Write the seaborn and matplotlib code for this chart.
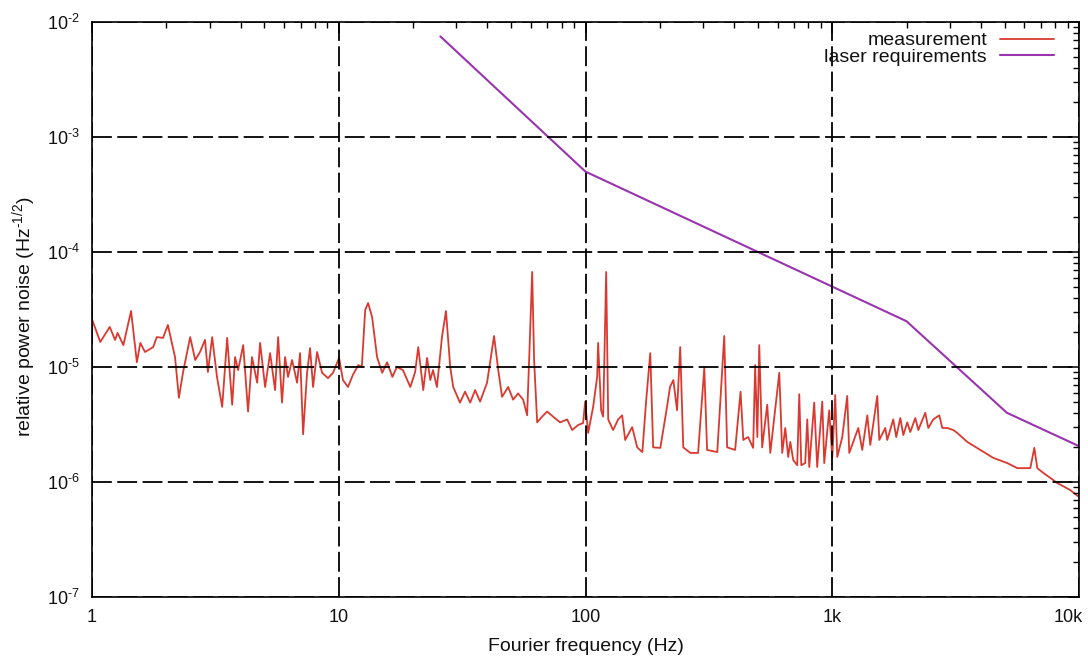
import matplotlib
matplotlib.use("Agg")
import matplotlib.pyplot as plt
import matplotlib.ticker as mticker
import matplotlib.transforms as mtransforms
import numpy as np
import pandas as pd
import seaborn as sns

# ---------------- data ----------------
meas_freq = [
    1.0, 1.08, 1.18, 1.24, 1.27, 1.34, 1.44, 1.52, 1.57, 1.64, 1.77, 1.83, 1.94, 2.03,
    2.17, 2.25, 2.34, 2.50, 2.62, 2.74, 2.87, 2.95, 3.07, 3.21, 3.37, 3.53, 3.70, 3.80,
    3.91, 4.10, 4.29, 4.45, 4.67, 4.80, 5.03, 5.27, 5.52, 5.68, 5.89, 6.06, 6.23, 6.47,
    6.78, 6.97, 7.17, 7.44, 7.65, 7.87, 8.17, 8.56, 9.05, 9.48, 10.03, 10.4, 10.9, 11.4,
    12.0, 12.4, 12.8, 13.15, 13.65, 14.3, 15.0, 15.7, 16.5, 17.2, 18.2, 19.5, 20.4, 21.0,
    22.0, 22.8, 23.5, 24.1, 25.0, 26.2, 27.2, 28.3, 29.1, 31.0, 32.5, 34.1, 35.7, 37.4,
    39.9, 42.6, 44.3, 45.9, 48.6, 50.9, 53.3, 55.9, 58.0, 59.1, 60.8, 61.9, 63.7, 66.7,
    69.9, 73.9, 78.9, 84.3, 88.3, 93.4, 97.8, 99.7, 102.5, 107.4, 111.5, 112.5, 115.7,
    117.9, 121.3, 123.6, 129.4, 135.6, 140.8, 144.8, 154.6, 162, 170, 176, 183, 188, 201,
    214, 220, 227, 235, 242, 249, 266, 286, 303, 311, 342, 365, 375, 404, 425, 436, 456,
    478, 487, 497, 506, 520, 545, 561, 610, 627, 645, 663, 676, 695, 721, 735, 749, 777,
    792, 807, 845, 869, 911, 928, 972, 1000, 1028, 1048, 1098, 1150, 1172, 1275, 1323,
    1387, 1426, 1522, 1551, 1640, 1671, 1767, 1817, 1887, 1941, 2014, 2071, 2171, 2232,
    2382, 2450, 2567, 2715, 2792, 2925, 3094, 3212, 3526, 3981, 4496, 5122, 5623, 6349,
    6590, 6776, 7168, 8168, 9224, 10000,
]
meas_val = [
    2.6e-5, 1.65e-5, 2.23e-5, 1.72e-5, 1.98e-5, 1.55e-5, 3.07e-5, 1.10e-5, 1.62e-5, 1.35e-5,
    1.49e-5, 1.82e-5, 1.79e-5, 2.32e-5, 1.22e-5, 5.4e-6, 9.05e-6, 1.82e-5, 1.15e-5, 1.35e-5,
    1.72e-5, 9.05e-6, 1.82e-5, 8.2e-6, 4.5e-6, 1.79e-5, 4.7e-6, 1.22e-5, 9.4e-6, 1.55e-5,
    4.1e-6, 1.22e-5, 7.3e-6, 1.62e-5, 6.7e-6, 1.32e-5, 6.3e-6, 1.82e-5, 4.9e-6, 1.22e-5,
    8.2e-6, 1.15e-5, 7.3e-6, 1.32e-5, 2.6e-6, 8.9e-6, 1.46e-5, 6.7e-6, 1.35e-5, 8.9e-6,
    8.0e-6, 8.9e-6, 1.20e-5, 7.7e-6, 6.7e-6, 8.5e-6, 1.04e-5, 1.0e-5, 3.13e-5, 3.6e-5,
    2.72e-5, 1.22e-5, 8.9e-6, 1.10e-5, 8.2e-6, 1.0e-5, 9.4e-6, 6.7e-6, 9.05e-6, 1.49e-5,
    6.3e-6, 1.20e-5, 7.7e-6, 9.4e-6, 6.7e-6, 1.82e-5, 3.07e-5, 1.0e-5, 6.7e-6, 4.9e-6,
    6.1e-6, 4.9e-6, 6.3e-6, 5.0e-6, 7.3e-6, 1.86e-5, 9.4e-6, 5.5e-6, 6.7e-6, 5.2e-6,
    5.9e-6, 5.2e-6, 3.8e-6, 1.15e-5, 6.7e-5, 1.15e-5, 3.3e-6, 3.7e-6, 4.1e-6, 3.7e-6,
    3.3e-6, 3.5e-6, 2.83e-6, 3.13e-6, 3.26e-6, 5.0e-6, 2.67e-6, 4.5e-6, 8.2e-6, 1.62e-5,
    4.2e-6, 3.7e-6, 6.7e-5, 3.5e-6, 2.83e-6, 3.5e-6, 3.8e-6, 2.32e-6, 3.0e-6, 2.0e-6,
    1.82e-6, 5.0e-6, 1.32e-5, 2.0e-6, 1.98e-6, 4.5e-6, 6.7e-6, 7.7e-6, 4.2e-6, 1.49e-5,
    2.0e-6, 1.79e-6, 1.79e-6, 9.8e-6, 1.9e-6, 1.82e-6, 1.86e-5, 2.0e-6, 1.9e-6, 6.1e-6,
    2.32e-6, 2.46e-6, 1.98e-6, 1.04e-5, 2.46e-6, 1.55e-5, 2.0e-6, 4.7e-6, 1.79e-6, 8.9e-6,
    1.79e-6, 2.95e-6, 1.65e-6, 2.23e-6, 1.55e-6, 1.40e-6, 5.8e-6, 1.40e-6, 1.46e-6, 3.5e-6,
    1.35e-6, 4.9e-6, 1.35e-6, 5.0e-6, 1.46e-6, 4.2e-6, 1.62e-6, 5.7e-6, 1.65e-6, 2.46e-6,
    5.6e-6, 1.79e-6, 2.95e-6, 1.9e-6, 3.8e-6, 2.1e-6, 5.6e-6, 2.32e-6, 2.95e-6, 2.32e-6,
    3.5e-6, 2.46e-6, 3.6e-6, 2.56e-6, 3.3e-6, 2.72e-6, 3.6e-6, 2.83e-6, 4.0e-6, 2.95e-6,
    3.5e-6, 3.8e-6, 2.95e-6, 2.95e-6, 2.83e-6, 2.67e-6, 2.23e-6, 1.9e-6, 1.62e-6, 1.46e-6,
    1.32e-6, 1.32e-6, 1.98e-6, 1.32e-6, 1.20e-6, 9.8e-7, 8.5e-7, 7.4e-7,
]

req_freq = [25.8, 100, 2000, 5100, 10000]
req_val = [7.5e-3, 5e-4, 2.5e-5, 4e-6, 2.05e-6]

x_ticks = [1, 10, 100, 1000, 10000]
x_ticklabels = ["1", "10", "100", "1k", "10k"]
y_ticks = [1e-7, 1e-6, 1e-5, 1e-4, 1e-3, 1e-2]
y_ticklabels = [r"10$^{\text{-}7}$", r"10$^{\text{-}6}$", r"10$^{\text{-}5}$",
                r"10$^{\text{-}4}$", r"10$^{\text{-}3}$", r"10$^{\text{-}2}$"]

series_names = ["measurement", "laser requirements"]
series_colors = ["#d93a30", "#9933b0"]

# ---------------- style ----------------
sns.set_style("white")
plt.rcParams["font.family"] = ["Liberation Sans", "DejaVu Sans"]
plt.rcParams["mathtext.fontset"] = "custom"
plt.rcParams["mathtext.rm"] = "Liberation Sans"
plt.rcParams["mathtext.default"] = "regular"

df = pd.concat([
    pd.DataFrame({"f": meas_freq, "v": meas_val, "s": series_names[0]}),
    pd.DataFrame({"f": req_freq, "v": req_val, "s": series_names[1]}),
], ignore_index=True)

fig = plt.figure(figsize=(10.88, 6.61), dpi=100)
ax = fig.add_axes([92 / 1088, 1 - 597 / 661, 987 / 1088, 575 / 661])

sns.lineplot(data=df[df.s == series_names[0]], x="f", y="v", ax=ax, color=series_colors[0],
             lw=1.3, estimator=None, sort=False, label=series_names[0])
sns.lineplot(data=df[df.s == series_names[1]], x="f", y="v", ax=ax, color=series_colors[1],
             lw=1.5, estimator=None, sort=False, label=series_names[1])

ax.set_xscale("log")
ax.set_yscale("log")
ax.set_xlim(1, 10000)
ax.set_ylim(1e-7, 1e-2)

ax.set_xticks(x_ticks)
ax.set_xticklabels(x_ticklabels)
ax.set_yticks(y_ticks)
ax.set_yticklabels(y_ticklabels)
ax.xaxis.set_minor_locator(mticker.LogLocator(base=10, subs=np.arange(2, 10), numticks=20))
ax.yaxis.set_minor_locator(mticker.LogLocator(base=10, subs=np.arange(2, 10), numticks=20))
ax.xaxis.set_minor_formatter(mticker.NullFormatter())
ax.yaxis.set_minor_formatter(mticker.NullFormatter())

ax.tick_params(which="both", direction="in", top=True, right=True, colors="black",
               labelcolor="#111111", labelsize=13)
ax.tick_params(which="major", length=8, width=1.1, pad=9)
ax.tick_params(which="minor", length=4, width=1.0)

# keep the last x label inside the figure
last = ax.get_xticklabels()[-1]
last.set_horizontalalignment("right")
last.set_transform(last.get_transform() + mtransforms.ScaledTranslation(4 / 100, 0, fig.dpi_scale_trans))

ax.grid(True, which="major", color="black", lw=1.3, linestyle=(0, (11, 3)))
ax.set_axisbelow(False)
for sp in ax.spines.values():
    sp.set_color("black")
    sp.set_linewidth(1.2)

ax.set_xlabel("Fourier frequency (Hz)", fontsize=14, color="#111111", labelpad=8)
ax.set_ylabel(r"relative power noise (Hz$^{\text{-}1/2}$)", fontsize=14, color="#111111")
ax.yaxis.set_label_coords(-0.055, 0.487)

leg = ax.legend(loc="upper right", bbox_to_anchor=(0.9747, 0.983), frameon=False,
                markerfirst=False, fontsize=14, handlelength=2.8, handletextpad=0.65,
                labelspacing=-0.05, borderaxespad=0, borderpad=0)
for t in leg.get_texts():
    t.set_color("#111111")

fig.savefig("out.png", dpi=100)
